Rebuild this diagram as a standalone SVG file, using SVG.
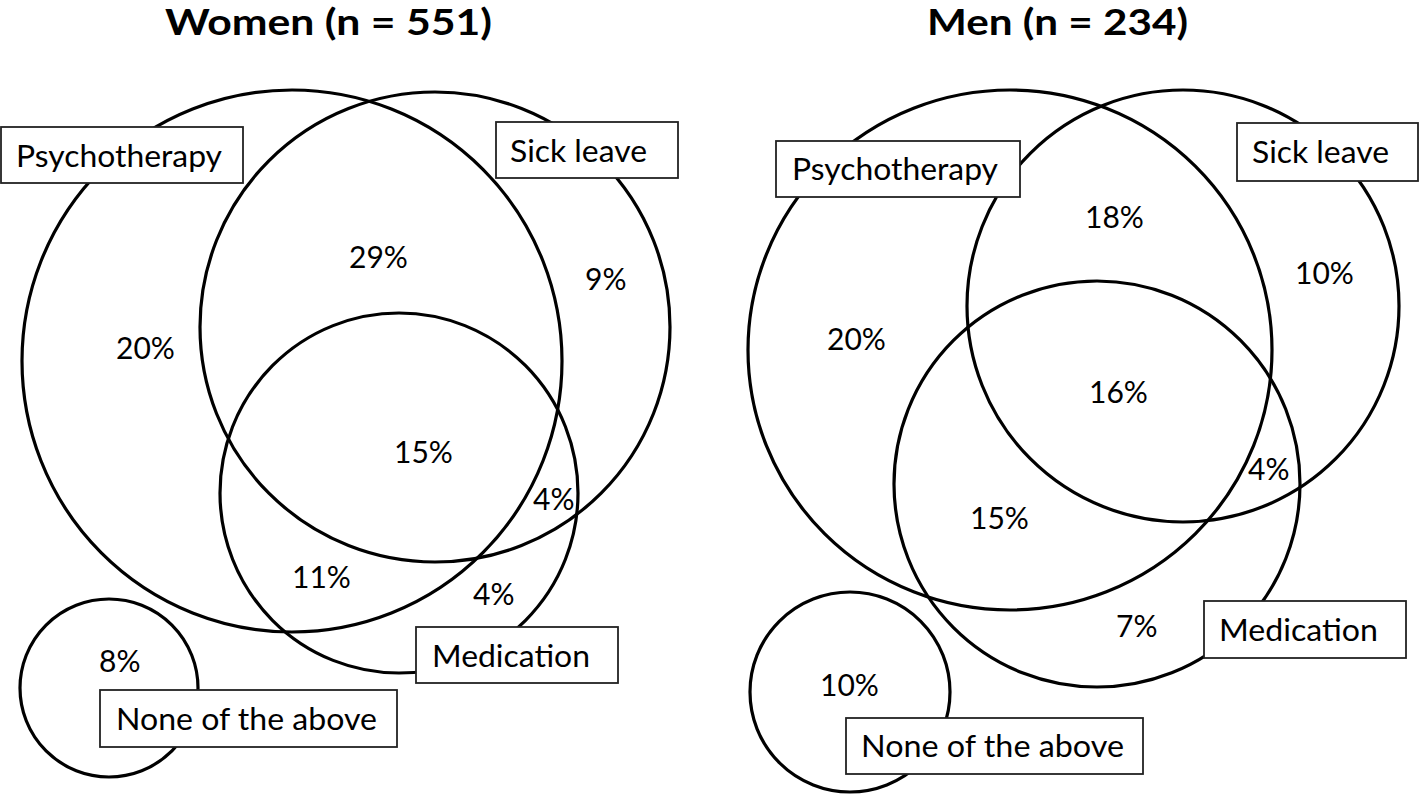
<svg xmlns="http://www.w3.org/2000/svg" width="1419" height="795" viewBox="0 0 1419 795">
<style>
.c{fill:none;stroke:#000;stroke-width:3.2}
.b{fill:#fff;stroke:#222;stroke-width:1.8}
.t{font-family:Lato,"Open Sans","Liberation Sans",sans-serif;font-size:30px;fill:#000}
.h{font-family:Lato,"Open Sans","Liberation Sans",sans-serif;font-size:37px;font-weight:700;fill:#000}
</style>
<rect width="1419" height="795" fill="#fff"/>
<g id="women">
<text class="h" x="165" y="35" textLength="327" lengthAdjust="spacingAndGlyphs">Women (n = 551)</text>
<g id="women-sick-leave">
<ellipse class="c" cx="435" cy="327" rx="235" ry="235"/>
<rect class="b" x="496" y="122" width="182" height="56"/>
<text class="t" x="510" y="162" textLength="137" lengthAdjust="spacingAndGlyphs">Sick leave</text>
</g>
<g id="women-psychotherapy">
<ellipse class="c" cx="292" cy="361" rx="270" ry="271"/>
<rect class="b" x="1" y="127" width="242" height="56"/>
<text class="t" x="16" y="167" textLength="206" lengthAdjust="spacingAndGlyphs">Psychotherapy</text>
</g>
<g id="women-medication">
<ellipse class="c" cx="399" cy="493" rx="179" ry="180"/>
<rect class="b" x="416" y="627" width="202" height="56"/>
<text class="t" x="432" y="667" textLength="158" lengthAdjust="spacingAndGlyphs">Medication</text>
</g>
<g id="women-none">
<ellipse class="c" cx="109" cy="688" rx="89" ry="89"/>
<rect class="b" x="100" y="690" width="297" height="57"/>
<text class="t" x="116" y="730" textLength="261" lengthAdjust="spacingAndGlyphs">None of the above</text>
</g>
<g id="women-regions" class="t">
<text x="349" y="268">29%</text>
<text x="116" y="359">20%</text>
<text x="585" y="290">9%</text>
<text x="394" y="463">15%</text>
<text x="533" y="510">4%</text>
<text x="292" y="588">11%</text>
<text x="473" y="605">4%</text>
<text x="99" y="672">8%</text>
</g>
</g>
<g id="men">
<text class="h" x="927" y="35" textLength="261" lengthAdjust="spacingAndGlyphs">Men (n = 234)</text>
<g id="men-sick-leave">
<ellipse class="c" cx="1183" cy="306" rx="216" ry="216"/>
<rect class="b" x="1237" y="123" width="181" height="58"/>
<text class="t" x="1252" y="163" textLength="137" lengthAdjust="spacingAndGlyphs">Sick leave</text>
</g>
<g id="men-psychotherapy">
<ellipse class="c" cx="1010" cy="350" rx="262" ry="260"/>
<rect class="b" x="776" y="141" width="244" height="56"/>
<text class="t" x="792" y="180" textLength="206" lengthAdjust="spacingAndGlyphs">Psychotherapy</text>
</g>
<g id="men-medication">
<ellipse class="c" cx="1097" cy="484" rx="203" ry="203"/>
<rect class="b" x="1204" y="601" width="202" height="57"/>
<text class="t" x="1219" y="641" textLength="159" lengthAdjust="spacingAndGlyphs">Medication</text>
</g>
<g id="men-none">
<ellipse class="c" cx="850" cy="692" rx="100" ry="100"/>
<rect class="b" x="846" y="718" width="297" height="56"/>
<text class="t" x="861" y="757" textLength="263" lengthAdjust="spacingAndGlyphs">None of the above</text>
</g>
<g id="men-regions" class="t">
<text x="1085" y="228">18%</text>
<text x="1295" y="284">10%</text>
<text x="827" y="350">20%</text>
<text x="1089" y="403">16%</text>
<text x="1248" y="480">4%</text>
<text x="970" y="529">15%</text>
<text x="1116" y="637">7%</text>
<text x="820" y="696">10%</text>
</g>
</g>
</svg>
